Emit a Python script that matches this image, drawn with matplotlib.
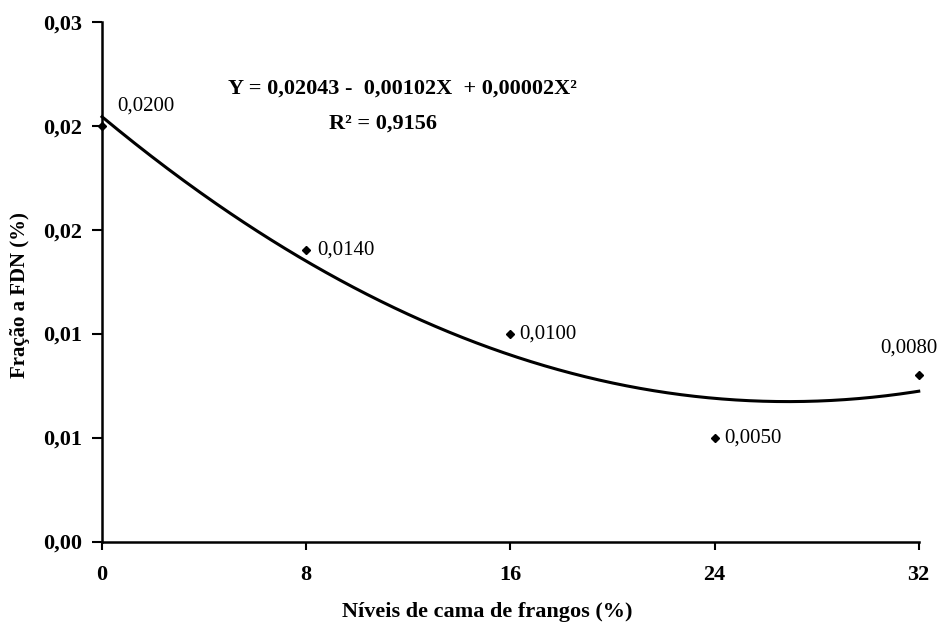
import numpy as np
import matplotlib
matplotlib.use("Agg")
import matplotlib.pyplot as plt

plt.rcParams['font.family'] = ['Liberation Serif', 'DejaVu Serif']

# dados
niveis = [0, 8, 16, 24, 32]
fracao = [0.0200, 0.0140, 0.0100, 0.0050, 0.0080]
rotulos = ['0,0200', '0,0140', '0,0100', '0,0050', '0,0080']
x_ticks = [0, 8, 16, 24, 32]
y_ticks = [0.0, 0.005, 0.010, 0.015, 0.020, 0.025]
y_ticklabels = ['0,00', '0,01', '0,01', '0,02', '0,02', '0,03']
equacao = 'Y = 0,02043 -  0,00102X  + 0,00002X²'
r2 = 'R² = 0,9156'

# posicao dos rotulos (pixels, relativo ao ponto)
label_offsets = [(15, 20), (11, 0), (9, 0), (10, 0), (-10, 27)]
label_ha = ['left', 'left', 'left', 'left', 'center']

fig = plt.figure(figsize=(9.42, 6.24), dpi=100)
ax = fig.add_axes([0.1083, 0.1322, 0.867, 0.833])

# linha de tendencia polinomial (2a ordem) ajustada aos pontos
coef = np.polyfit(niveis, fracao, 2)
xs = np.linspace(0, 32, 300)
ax.plot(xs, np.polyval(coef, xs), color='black', lw=2.2, clip_on=False, zorder=2)

ax.plot(niveis, fracao, 'D', color='black', markersize=4.5, clip_on=False, zorder=3)

for xi, yi, txt, off, ha in zip(niveis, fracao, rotulos, label_offsets, label_ha):
    ax.annotate(txt, (xi, yi), xytext=off, textcoords='offset pixels',
                ha=ha, va='center', fontsize=15, annotation_clip=False)

ax.set_xlim(0, 32)
ax.set_ylim(0, 0.025)
ax.set_xticks(x_ticks)
ax.set_xticklabels([str(v) for v in x_ticks])
ax.set_yticks(y_ticks)
ax.set_yticklabels(y_ticklabels)

for lab in ax.get_xticklabels() + ax.get_yticklabels():
    lab.set_fontweight('bold')
    lab.set_fontsize(16)

ax.tick_params(axis='y', direction='out', length=7, width=1.5, pad=7)
ax.tick_params(axis='x', direction='out', length=6, width=1.5, pad=11)

ax.spines['top'].set_visible(False)
ax.spines['right'].set_visible(False)
ax.spines['left'].set_linewidth(1.8)
ax.spines['bottom'].set_linewidth(1.8)

ax.set_xlabel('Níveis de cama de frangos (%)', fontsize=16, fontweight='bold')
ax.xaxis.set_label_coords(0.472, -0.117)
ax.set_ylabel('Fração a FDN (%)', fontsize=15, fontweight='bold')
ax.yaxis.set_label_coords(-0.088, 0.474)

fig.text(402 / 942, 1 - 89 / 624, equacao, ha='center', va='center',
         fontsize=16, fontweight='bold')
fig.text(383 / 942, 1 - 124 / 624, r2, ha='center', va='center',
         fontsize=16, fontweight='bold')

fig.savefig('out.png', dpi=100)
